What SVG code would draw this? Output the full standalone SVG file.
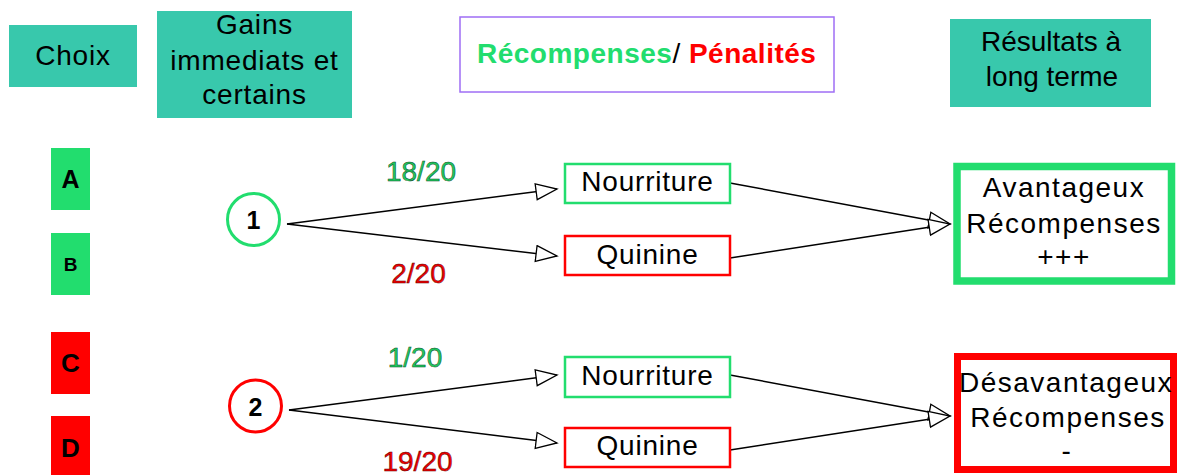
<svg xmlns="http://www.w3.org/2000/svg" width="1177" height="475" viewBox="0 0 1177 475">
<style>
text{font-family:"Liberation Sans",Arial,sans-serif;font-size:28px;fill:#000;text-anchor:middle}
.hdr{fill:#38C8AC}
.b{font-weight:bold}
.sp{letter-spacing:1.5px}
.sp1{letter-spacing:0.8px}
.gf{fill:#1FC85F;stroke:#0a4a22;stroke-width:0.5px}
.rf{fill:#F00000;stroke:#5a0000;stroke-width:0.5px}
.conn line{stroke:#000;stroke-width:1.5;marker-end:url(#arr)}
.box{fill:#fff;stroke-width:2.5}
</style>
<defs>
<marker id="arr" markerUnits="userSpaceOnUse" markerWidth="24" markerHeight="20" refX="22" refY="9" orient="auto">
<path d="M1,1 L22,9 L1,17 Z" fill="#fff" stroke="#000" stroke-width="1.3"/>
</marker>
</defs>
<rect width="1177" height="475" fill="#fff"/>

<g id="hdr-choix"><rect class="hdr" x="9" y="25" width="128" height="62"/><text x="73" y="65" class="sp1">Choix</text></g>
<g id="hdr-gains"><rect class="hdr" x="157" y="11" width="195" height="107"/>
<text x="254.5" y="34" class="sp1">Gains</text><text x="254.5" y="70" class="sp1">immediats et</text><text x="254.5" y="104" class="sp1">certains</text></g>
<g id="hdr-recomp"><rect x="460" y="17" width="374" height="75" fill="#fff" stroke="#9F6EF5" stroke-width="1.5"/>
<text x="477" y="63" style="text-anchor:start;letter-spacing:0.5px"><tspan class="b" style="fill:#22DD6E">Récompenses</tspan><tspan>/ </tspan><tspan class="b" style="fill:#FF0000">Pénalités</tspan></text></g>
<g id="hdr-result"><rect class="hdr" x="950" y="19" width="201" height="88"/>
<text x="1051" y="51">Résultats à</text><text x="1052" y="86">long terme</text></g>

<g id="choice-a"><rect x="51" y="148" width="39" height="62" fill="#22DD6E"/><text x="70.5" y="188" class="b" style="font-size:25px">A</text></g>
<g id="choice-b"><rect x="51" y="233" width="39" height="62" fill="#22DD6E"/><text x="70.5" y="271" class="b" style="font-size:19px">B</text></g>
<g id="choice-c"><rect x="51" y="332" width="39" height="62" fill="#FF0000"/><text x="70.5" y="372" class="b" style="font-size:26px">C</text></g>
<g id="choice-d"><rect x="51" y="416" width="39" height="62" fill="#FF0000"/><text x="70.5" y="457" class="b" style="font-size:26px">D</text></g>

<g id="connectors" class="conn">
<line x1="287" y1="224" x2="557" y2="189"/>
<line x1="287" y1="224" x2="557" y2="256"/>
<line x1="730" y1="183" x2="950" y2="224"/>
<line x1="730" y1="258" x2="950" y2="224"/>
<line x1="289" y1="410" x2="557" y2="375"/>
<line x1="289" y1="410" x2="557" y2="443"/>
<line x1="730" y1="375" x2="950" y2="416"/>
<line x1="730" y1="450" x2="950" y2="416"/>
</g>

<g id="circle-1"><circle cx="253.5" cy="219.5" r="26" fill="#fff" stroke="#22DD6E" stroke-width="3"/><text x="253.5" y="229" class="b" style="font-size:25px">1</text></g>
<g id="circle-2"><circle cx="255.5" cy="406" r="26" fill="#fff" stroke="#FF0000" stroke-width="3"/><text x="255.5" y="416" class="b" style="font-size:25px">2</text></g>

<g id="label-18"><text x="421" y="181" class="gf">18/20</text></g>
<g id="label-2"><text x="418.5" y="283" class="rf">2/20</text></g>
<g id="label-1"><text x="415" y="367" class="gf">1/20</text></g>
<g id="label-19"><text x="417.5" y="471" class="rf">19/20</text></g>

<g id="food-1"><rect class="box" x="565" y="164" width="165" height="39" stroke="#22DD6E"/><text x="647.5" y="191" class="sp1">Nourriture</text></g>
<g id="quinine-1"><rect class="box" x="565" y="236" width="165" height="39" stroke="#FF0000"/><text x="647.5" y="264" class="sp1">Quinine</text></g>
<g id="food-2"><rect class="box" x="565" y="357" width="165" height="40" stroke="#22DD6E"/><text x="647.5" y="385" class="sp1">Nourriture</text></g>
<g id="quinine-2"><rect class="box" x="565" y="428" width="165" height="39" stroke="#FF0000"/><text x="647.5" y="455" class="sp1">Quinine</text></g>

<g id="result-good"><rect x="957" y="166.5" width="214.5" height="114.5" fill="#fff" stroke="#22DD6E" stroke-width="7.5"/>
<text x="1064" y="197" class="sp">Avantageux</text><text x="1064" y="233" class="sp">Récompenses</text><text x="1064" y="266" class="sp">+++</text></g>
<g id="result-bad"><rect x="957.5" y="356.5" width="216" height="113" fill="#fff" stroke="#FF0000" stroke-width="7"/>
<text x="1066" y="392" class="sp">Désavantageux</text><text x="1068" y="427" class="sp">Récompenses</text><text x="1067" y="460" class="sp">-</text></g>
</svg>
